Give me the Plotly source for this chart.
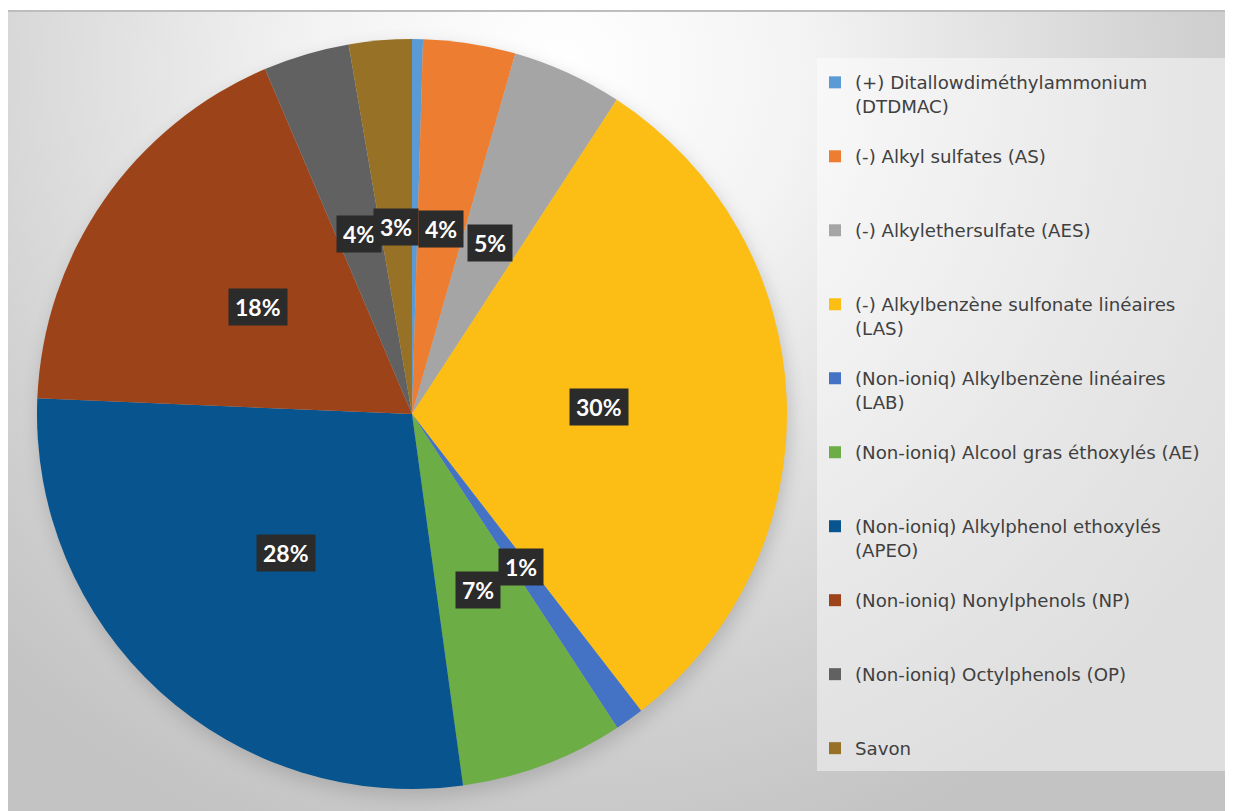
import base64
import math
import plotly.graph_objects as go

# Slice labels (legend text) and shares
labels = [
    "(+) Ditallowdiméthylammonium<br>(DTDMAC)",
    "(-) Alkyl sulfates (AS)",
    "(-) Alkylethersulfate (AES)",
    "(-) Alkylbenzène sulfonate linéaires<br>(LAS)",
    "(Non-ioniq) Alkylbenzène linéaires<br>(LAB)",
    "(Non-ioniq) Alcool gras éthoxylés (AE)",
    "(Non-ioniq) Alkylphenol ethoxylés<br>(APEO)",
    "(Non-ioniq) Nonylphenols (NP)",
    "(Non-ioniq) Octylphenols (OP)",
    "Savon",
]
values = [0.47, 3.97, 4.74, 30.3, 1.24, 7.04, 27.8, 17.9, 3.7, 2.7]
colors = ["#5B9BD5", "#ED7D31", "#A5A5A5", "#FCBE14", "#4472C4",
          "#6CAD45", "#07548E", "#9C431A", "#616161", "#977226"]

W, H = 1233, 811
OFF = 8  # the page body keeps its default 8px margin
cx, cy, r = 412 - OFF, 414 - OFF, 375  # pie centre / radius in paper px

# pad each legend entry to three lines so entries are evenly spaced
legend_names = []
for lab in labels:
    n = lab.count("<br>") + 1
    legend_names.append(lab + "<br>&nbsp;" * (3 - n))

# soft radial background + pie shadow, as an svg layer
svg = f"""<svg xmlns='http://www.w3.org/2000/svg' width='{W}' height='{H}' viewBox='0 0 {W} {H}'>
<defs>
<radialGradient id='g' cx='552' cy='62' r='820' gradientUnits='userSpaceOnUse'>
<stop offset='0' stop-color='#ffffff'/>
<stop offset='0.3' stop-color='#f3f3f3'/>
<stop offset='0.75' stop-color='#d2d2d2'/>
<stop offset='1' stop-color='#c3c3c3'/>
</radialGradient>
<filter id='b' x='-20%' y='-20%' width='140%' height='140%'><feGaussianBlur stdDeviation='9'/></filter>
</defs>
<rect width='{W}' height='{H}' fill='#ffffff'/>
<rect x='0' y='2' width='{W}' height='{H - 2}' fill='url(#g)'/>
<rect x='0' y='2' width='{W}' height='2' fill='#bdbdbd'/>
<circle cx='{cx + 2}' cy='{cy + 8}' r='{r}' fill='#8a8a8a' opacity='0.45' filter='url(#b)'/>
</svg>"""
bg_src = "data:image/svg+xml;base64," + base64.b64encode(svg.encode("utf-8")).decode()

fig = go.Figure()

fig.add_trace(go.Pie(
    labels=legend_names,
    values=values,
    marker=dict(colors=colors, line=dict(width=0)),
    sort=False,
    direction="clockwise",
    rotation=0,
    textinfo="none",
    hoverinfo="label+percent",
    domain=dict(x=[(cx - r) / W, (cx + r) / W], y=[1 - (cy + r) / H, 1 - (cy - r) / H]),
))

# percentage labels in dark boxes, half way out along each slice's mid angle
total = sum(values)
annotations = []
cum = 0.0
for v in values:
    mid = (cum + v / 2) / total * 2 * math.pi
    cum += v
    pct = round(v / total * 100)
    if pct == 0:
        continue
    px = cx + 0.5 * r * math.sin(mid)
    py = cy - 0.5 * r * math.cos(mid)
    annotations.append(dict(
        x=px / W, y=1 - py / H, xref="paper", yref="paper",
        text=f"<b>{pct}%</b>", showarrow=False,
        font=dict(family="Lato, Open Sans, sans-serif", size=23, color="white"),
        bgcolor="#2b2b2b", height=24, borderpad=6,
        xanchor="center", yanchor="middle",
    ))

fig.update_layout(
    width=W, height=H,
    margin=dict(l=0, r=0, t=0, b=0),
    paper_bgcolor="white",
    images=[dict(source=bg_src, xref="paper", yref="paper", x=0, y=1,
                 sizex=1, sizey=1, xanchor="left", yanchor="top",
                 sizing="stretch", layer="below")],
    shapes=[dict(type="rect", xref="paper", yref="paper",
                 x0=(817 - OFF) / W, x1=(1226 - OFF) / W,
                 y0=1 - (771 - OFF) / H, y1=1 - (58 - OFF) / H,
                 fillcolor="rgba(255,255,255,0.45)", line=dict(width=0), layer="below")],
    annotations=annotations,
    legend=dict(
        x=(815 - OFF) / W, y=1 - (64 - OFF) / H, xanchor="left", yanchor="top",
        bgcolor="rgba(0,0,0,0)", valign="top",
        font=dict(family="DejaVu Sans, sans-serif", size=18.2, color="#404040"),
    ),
    showlegend=True,
)

fig.write_html("out.html", config={"displayModeBar": False})
